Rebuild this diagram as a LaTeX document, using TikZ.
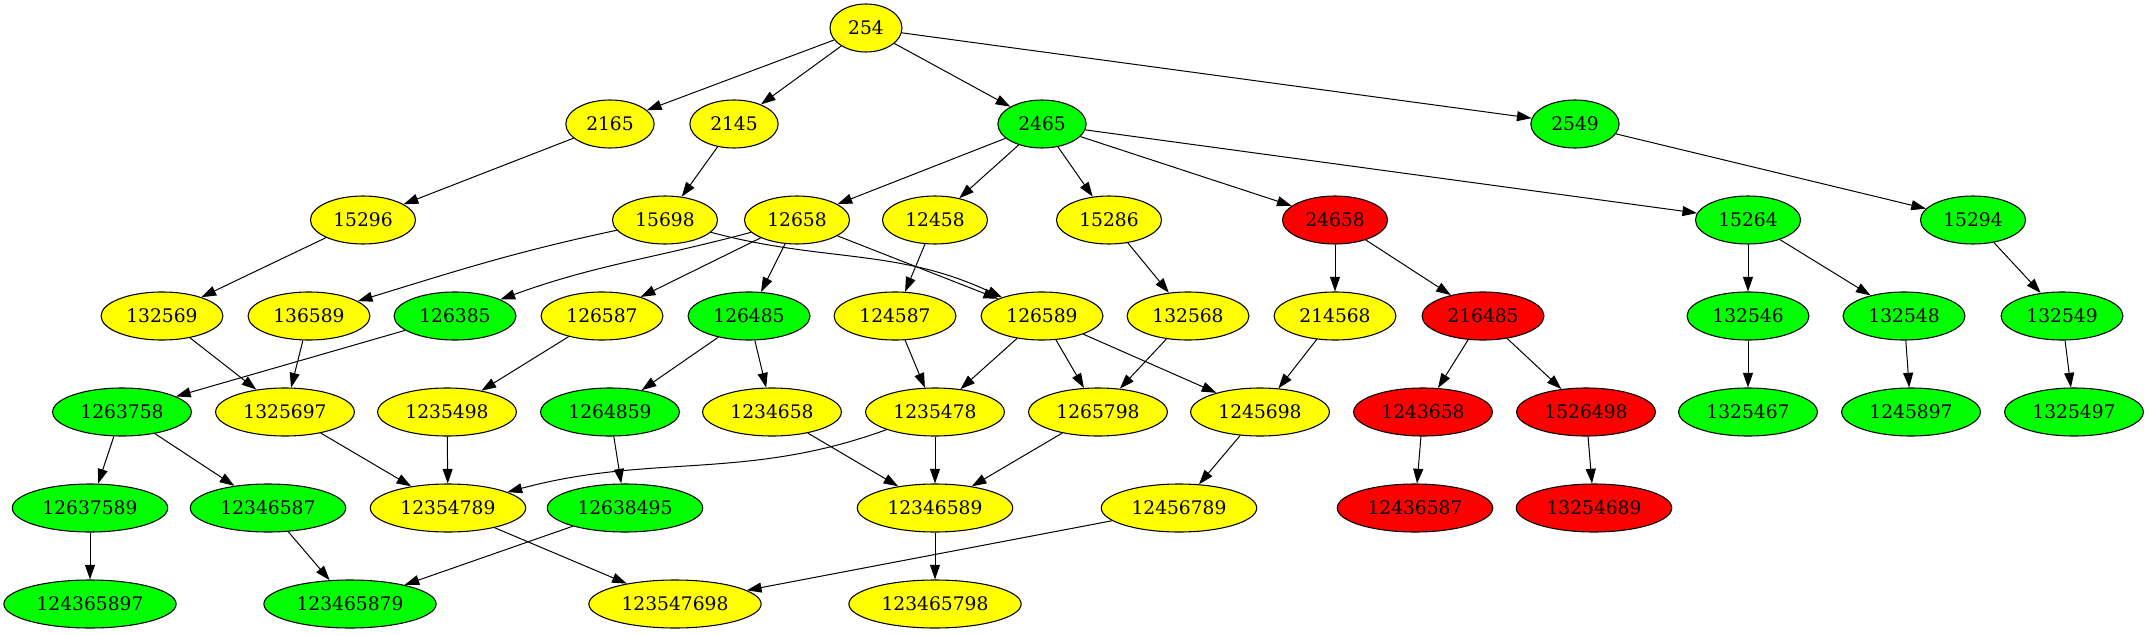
\documentclass[tikz,border=0pt]{standalone}
\usepackage{fontspec}
\setmainfont{DejaVu Serif}
\usetikzlibrary{shapes.geometric,arrows.meta}

\definecolor{ylw}{RGB}{255,255,0}
\definecolor{grn}{RGB}{0,255,0}
\definecolor{rd}{RGB}{255,0,0}

\tikzset{
  vtx/.style={ellipse,draw=black,line width=0.8pt,inner xsep=5.6pt,inner ysep=2pt,
    minimum height=36pt,minimum width=54pt,font=\fontsize{14}{16}\selectfont},
  ynode/.style={vtx,fill=ylw},
  gnode/.style={vtx,fill=grn},
  rnode/.style={vtx,fill=rd},
  arr/.style={-{Triangle[length=11pt,width=7.5pt]},line width=0.75pt}
}

\begin{document}
\begin{tikzpicture}[x=0.75pt,y=-0.75pt]

  \useasboundingbox (0,0) rectangle (2149,635);

  % rank 0 and 1
  \node[ynode] (n254) at (866,28) {254};
  \node[ynode] (n2165) at (610,124) {2165};
  \node[ynode] (n2145) at (734,124) {2145};
  \node[gnode] (n2465) at (1042,124) {2465};
  \node[gnode] (n2549) at (1575,124) {2549};

  % rank 2
  \node[ynode] (n15296) at (363,220) {15296};
  \node[ynode] (n15698) at (665,220) {15698};
  \node[ynode] (n12658) at (797,220) {12658};
  \node[ynode] (n12458) at (935,220) {12458};
  \node[ynode] (n15286) at (1109,220) {15286};
  \node[rnode] (n24658) at (1335,220) {24658};
  \node[gnode] (n15264) at (1748,220) {15264};
  \node[gnode] (n15294) at (1973,220) {15294};

  % rank 3
  \node[ynode] (n132569) at (162,316) {132569};
  \node[ynode] (n136589) at (309,316) {136589};
  \node[gnode] (n126385) at (455,316) {126385};
  \node[ynode] (n126587) at (602,316) {126587};
  \node[gnode] (n126485) at (749,316) {126485};
  \node[ynode] (n124587) at (895,316) {124587};
  \node[ynode] (n126589) at (1042,316) {126589};
  \node[ynode] (n132568) at (1188,316) {132568};
  \node[ynode] (n214568) at (1335,316) {214568};
  \node[rnode] (n216485) at (1483,316) {216485};
  \node[gnode] (n132546) at (1748,316) {132546};
  \node[gnode] (n132548) at (1904,316) {132548};
  \node[gnode] (n132549) at (2062,316) {132549};

  % rank 4
  \node[gnode] (n1263758) at (122,412) {1263758};
  \node[ynode] (n1325697) at (285,412) {1325697};
  \node[ynode] (n1235498) at (447,412) {1235498};
  \node[gnode] (n1264859) at (610,412) {1264859};
  \node[ynode] (n1234658) at (772,412) {1234658};
  \node[ynode] (n1235478) at (935,412) {1235478};
  \node[ynode] (n1265798) at (1098,412) {1265798};
  \node[ynode] (n1245698) at (1260,412) {1245698};
  \node[rnode] (n1243658) at (1423,412) {1243658};
  \node[rnode] (n1526498) at (1586,412) {1526498};
  \node[gnode] (n1325467) at (1748,412) {1325467};
  \node[gnode] (n1245897) at (1911,412) {1245897};
  \node[gnode] (n1325497) at (2074,412) {1325497};

  % rank 5
  \node[gnode] (n12637589) at (90,508) {12637589};
  \node[gnode] (n12346587) at (268,508) {12346587};
  \node[ynode] (n12354789) at (448,508) {12354789};
  \node[gnode] (n12638495) at (625,508) {12638495};
  \node[ynode] (n12346589) at (935,508) {12346589};
  \node[ynode] (n12456789) at (1179,508) {12456789};
  \node[rnode] (n12436587) at (1415,508) {12436587};
  \node[rnode] (n13254689) at (1594,508) {13254689};

  % rank 6
  \node[gnode] (n124365897) at (90,604) {124365897};
  \node[gnode] (n123465879) at (350,604) {123465879};
  \node[ynode] (n123547698) at (675,604) {123547698};
  \node[ynode] (n123465798) at (935,604) {123465798};

  % edges
  \path[arr] (n254) edge (n2165) edge (n2145) edge (n2465) edge (n2549);
  \path[arr] (n2165) edge (n15296);
  \path[arr] (n2145) edge (n15698);
  \path[arr] (n2465) edge (n12658) edge (n12458) edge (n15286) edge (n24658) edge (n15264);
  \path[arr] (n2549) edge (n15294);

  \path[arr] (n15296) edge (n132569);
  \path[arr] (n15698) edge[out=-168,in=17] (n136589) edge[out=-15,in=155] (n126589);
  \path[arr] (n12658) edge[out=-165,in=20] (n126385) edge (n126587) edge (n126485) edge (n126589);
  \path[arr] (n12458) edge (n124587);
  \path[arr] (n15286) edge (n132568);
  \path[arr] (n24658) edge (n214568) edge (n216485);
  \path[arr] (n15264) edge (n132546) edge (n132548);
  \path[arr] (n15294) edge (n132549);

  \path[arr] (n132569) edge (n1325697);
  \path[arr] (n136589) edge (n1325697);
  \path[arr] (n126385) edge (n1263758);
  \path[arr] (n126587) edge (n1235498);
  \path[arr] (n126485) edge (n1264859) edge (n1234658);
  \path[arr] (n124587) edge (n1235478);
  \path[arr] (n126589) edge (n1235478) edge (n1265798) edge (n1245698);
  \path[arr] (n132568) edge (n1265798);
  \path[arr] (n214568) edge (n1245698);
  \path[arr] (n216485) edge (n1243658) edge (n1526498);
  \path[arr] (n132546) edge (n1325467);
  \path[arr] (n132548) edge (n1245897);
  \path[arr] (n132549) edge (n1325497);

  \path[arr] (n1263758) edge (n12637589) edge (n12346587);
  \path[arr] (n1325697) edge (n12354789);
  \path[arr] (n1235498) edge (n12354789);
  \path[arr] (n1235478) edge[out=-160,in=15] (n12354789) edge (n12346589);
  \path[arr] (n1264859) edge (n12638495);
  \path[arr] (n1234658) edge (n12346589);
  \path[arr] (n1265798) edge (n12346589);
  \path[arr] (n1245698) edge (n12456789);
  \path[arr] (n1243658) edge (n12436587);
  \path[arr] (n1526498) edge (n13254689);

  \path[arr] (n12637589) edge (n124365897);
  \path[arr] (n12346587) edge (n123465879);
  \path[arr] (n12638495) edge (n123465879);
  \path[arr] (n12354789) edge (n123547698);
  \path[arr] (n12346589) edge (n123465798);
  \path[arr] (n12456789) edge (n123547698);

\end{tikzpicture}
\end{document}
